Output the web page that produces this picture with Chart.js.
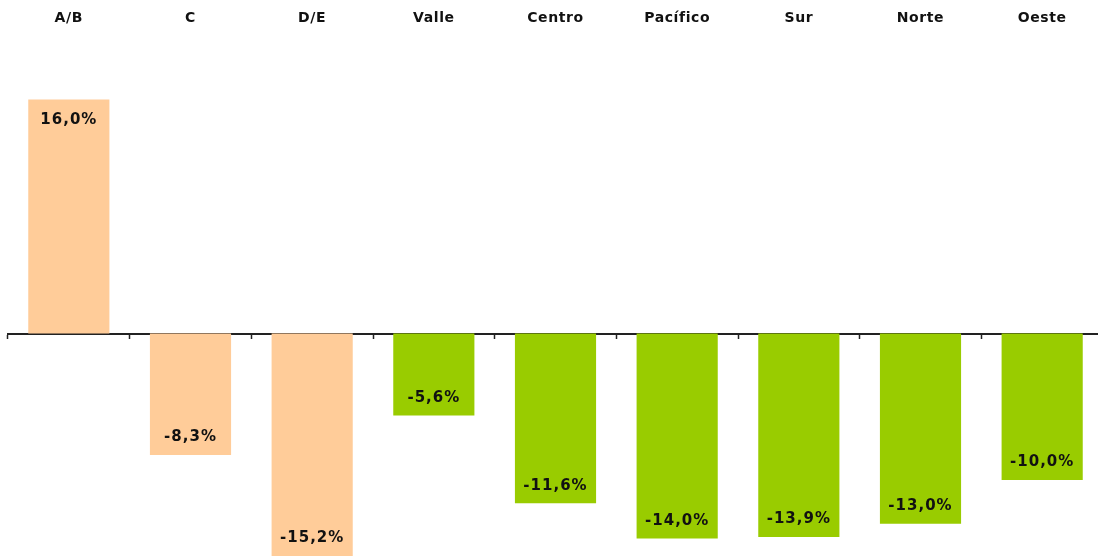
<!DOCTYPE html>
<html lang="es">
<head>
<meta charset="utf-8">
<title>Variación por nivel y región</title>
<script src="https://cdn.jsdelivr.net/npm/chart.js@4.4.1/dist/chart.umd.min.js"></script>
<style>
  html, body { margin: 0; padding: 0; background: #ffffff; overflow: hidden; }
  #wrap { width: 1103px; height: 556px; position: relative; }
</style>
</head>
<body>
<div id="wrap"><canvas id="grafico"></canvas></div>
<script>
// Categorías: niveles socioeconómicos y regiones
const categorias = ['A/B', 'C', 'D/E', 'Valle', 'Centro', 'Pacífico', 'Sur', 'Norte', 'Oeste'];
// Variación porcentual de cada categoría
const variacion = [16.0, -8.3, -15.2, -5.6, -11.6, -14.0, -13.9, -13.0, -10.0];
// Grupo al que pertenece cada categoría
const grupos = ['nivel', 'nivel', 'nivel', 'region', 'region', 'region', 'region', 'region', 'region'];

const coloresGrupo = { nivel: '#FFCC99', region: '#99CC00' };
const fuente = "'DejaVu Sans', Verdana, sans-serif";

const formato = v => v.toFixed(1).replace('.', ',') + '%';

// Espaciado de letras para todo el texto del lienzo
const espaciado = {
  id: 'espaciado',
  beforeDraw(chart) {
    chart.ctx.letterSpacing = '0.6px';
  }
};

// Etiquetas de valor dentro de cada barra, junto a su extremo
const etiquetasValor = {
  id: 'etiquetasValor',
  afterDatasetsDraw(chart) {
    const ctx = chart.ctx;
    const meta = chart.getDatasetMeta(0);
    const datos = chart.data.datasets[0].data;
    ctx.save();
    ctx.font = 'bold 15px ' + fuente;
    ctx.letterSpacing = '1px';
    ctx.fillStyle = '#111111';
    ctx.textAlign = 'center';
    ctx.textBaseline = 'middle';
    meta.data.forEach((barra, i) => {
      const v = datos[i];
      const y = v >= 0 ? barra.y + 20.5 : barra.y - 17.5;
      ctx.fillText(formato(v), barra.x, y);
    });
    ctx.restore();
  }
};

new Chart(document.getElementById('grafico'), {
  type: 'bar',
  data: {
    labels: categorias,
    datasets: [{
      data: variacion,
      backgroundColor: grupos.map(g => coloresGrupo[g]),
      borderWidth: 0,
      barPercentage: 0.667,
      categoryPercentage: 1.0,
      xAxisID: 'x'
    }]
  },
  options: {
    responsive: true,
    maintainAspectRatio: false,
    animation: false,
    events: [],
    layout: { padding: { left: 8, right: 0, top: 0, bottom: 0 } },
    plugins: {
      legend: { display: false },
      tooltip: { enabled: false }
    },
    scales: {
      x: {
        type: 'category',
        position: { y: 0 },
        ticks: { display: false },
        grid: {
          offset: true,
          drawOnChartArea: false,
          drawTicks: true,
          tickLength: 4,
          tickColor: '#222222',
          tickWidth: 1.5
        },
        border: { display: true, color: '#222222', width: 2 },
        afterFit(s) { s.height = 0; }
      },
      xTop: {
        type: 'category',
        position: 'top',
        labels: categorias,
        offset: true,
        ticks: {
          color: '#111111',
          font: { family: fuente, size: 14, weight: 'bold' },
          padding: 14,
          maxRotation: 0,
          autoSkip: false
        },
        grid: { display: false, drawTicks: false },
        border: { display: false },
        afterFit(s) { s.height = 41; }
      },
      y: {
        display: false,
        min: -15.2,
        max: 20
      }
    }
  },
  plugins: [espaciado, etiquetasValor]
});
</script>
</body>
</html>
